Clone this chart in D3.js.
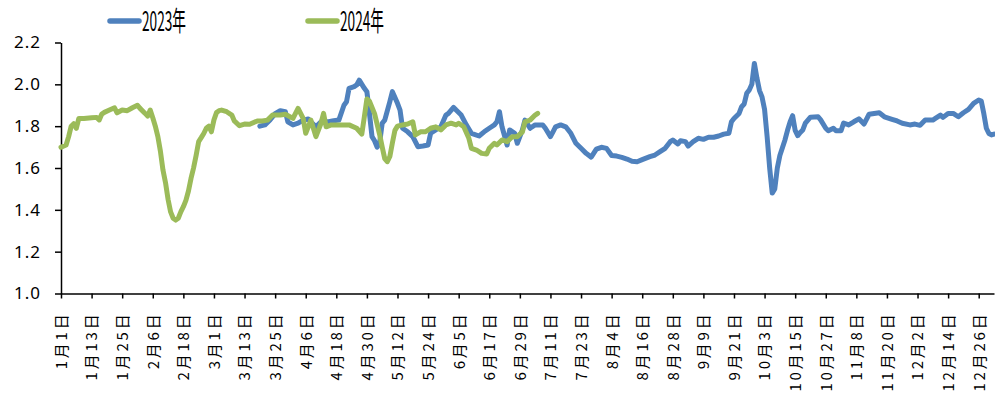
<!DOCTYPE html>
<html>
<head>
<meta charset="utf-8">
<script src="https://cdn.jsdelivr.net/npm/d3@7"></script>
<style>
  html, body { margin: 0; padding: 0; background: #fff; }
  svg { display: block; }
</style>
</head>
<body>
<svg id="chart" width="995" height="403"></svg>
<script>
// ---- data (x = day of year, 0 = 1月1日) ----
const seriesNames = ["2023年", "2024年"];

const days2023 = [78,80,82,84,86,88,89,91,93,95,97,98,100,102,105,107,109,111,112,113,115,116,117,119,120,121,122,123,124,125,126,127,129,130,132,133,134,136,138,140,142,144,145,147,149,151,152,154,155,157,159,161,164,166,168,170,171,172,173,175,176,178,179,181,182,184,186,189,190,192,193,194,196,198,200,202,204,206,208,210,212,214,216,218,220,222,224,226,228,231,233,235,237,239,240,242,243,245,246,248,250,252,254,256,258,260,262,263,264,266,267,268,269,270,271,272,273,274,275,276,277,278,279,280,281,282,284,285,286,287,288,289,290,291,292,294,297,298,300,301,303,304,306,307,309,311,313,315,317,319,321,323,326,328,330,333,335,337,339,342,343,345,346,348,350,352,354,356,358,360,361,362,363,364,365,366];
const values2023 = [1.80,1.806,1.83,1.86,1.874,1.869,1.821,1.806,1.814,1.829,1.834,1.821,1.797,1.821,1.821,1.826,1.829,1.90,1.917,1.981,1.989,1.997,2.02,1.981,1.965,1.861,1.75,1.73,1.70,1.72,1.814,1.829,1.917,1.965,1.909,1.877,1.79,1.773,1.75,1.702,1.705,1.71,1.766,1.782,1.797,1.853,1.861,1.89,1.877,1.853,1.806,1.766,1.753,1.773,1.79,1.806,1.821,1.869,1.797,1.71,1.782,1.766,1.718,1.782,1.829,1.79,1.806,1.806,1.79,1.75,1.773,1.797,1.806,1.797,1.766,1.718,1.694,1.67,1.652,1.69,1.699,1.694,1.66,1.657,1.651,1.643,1.632,1.63,1.64,1.654,1.662,1.678,1.694,1.726,1.734,1.715,1.73,1.726,1.705,1.726,1.742,1.737,1.747,1.747,1.753,1.762,1.766,1.821,1.837,1.861,1.893,1.906,1.957,1.973,2.0,2.10,2.03,1.97,1.94,1.88,1.75,1.60,1.48,1.50,1.60,1.66,1.734,1.78,1.82,1.85,1.78,1.755,1.77,1.782,1.815,1.843,1.845,1.83,1.79,1.778,1.79,1.778,1.778,1.815,1.806,1.821,1.835,1.81,1.857,1.861,1.864,1.845,1.833,1.825,1.814,1.806,1.81,1.804,1.829,1.829,1.837,1.853,1.842,1.861,1.861,1.845,1.864,1.88,1.909,1.925,1.92,1.86,1.79,1.765,1.758,1.762];

const days2024 = [0,2,3,4,5,6,7,9,12,14,15,16,17,19,21,22,24,26,28,30,31,33,34,35,36,37,38,39,40,41,42,43,44,45,46,47,48,49,50,51,52,53,54,55,56,57,58,59,60,61,62,63,65,67,68,70,72,74,77,79,81,83,86,88,91,93,95,96,98,100,102,103,104,106,109,113,116,118,119,120,121,122,123,124,125,126,127,128,129,130,131,132,134,136,138,139,141,143,145,147,149,151,153,155,156,158,160,161,163,165,167,168,170,171,173,175,177,179,181,182,184,186,187];
const values2024 = [1.699,1.71,1.75,1.80,1.812,1.79,1.837,1.837,1.84,1.842,1.83,1.858,1.866,1.877,1.888,1.864,1.877,1.874,1.888,1.90,1.885,1.861,1.848,1.877,1.84,1.80,1.75,1.68,1.59,1.53,1.45,1.39,1.36,1.351,1.36,1.39,1.415,1.445,1.49,1.55,1.60,1.66,1.726,1.745,1.765,1.79,1.80,1.773,1.83,1.865,1.874,1.877,1.869,1.853,1.825,1.802,1.81,1.809,1.825,1.825,1.829,1.853,1.853,1.857,1.837,1.885,1.837,1.766,1.829,1.75,1.814,1.861,1.797,1.806,1.806,1.806,1.79,1.762,1.845,1.93,1.92,1.89,1.86,1.81,1.76,1.70,1.645,1.63,1.655,1.72,1.78,1.80,1.806,1.81,1.821,1.758,1.773,1.773,1.79,1.797,1.782,1.806,1.814,1.806,1.814,1.797,1.742,1.694,1.686,1.67,1.667,1.694,1.718,1.71,1.734,1.726,1.75,1.75,1.773,1.821,1.829,1.853,1.861];

const tickDays = [0,12,24,36,48,60,72,84,96,108,120,132,144,156,168,180,192,204,216,228,240,252,264,276,288,300,312,324,336,348,360];
const tickLabels = ["1月1日","1月13日","1月25日","2月6日","2月18日","3月1日","3月13日","3月25日","4月6日","4月18日","4月30日","5月12日","5月24日","6月5日","6月17日","6月29日","7月11日","7月23日","8月4日","8月16日","8月28日","9月9日","9月21日","10月3日","10月15日","10月27日","11月8日","11月20日","12月2日","12月14日","12月26日"];
const yTicks = [1.0,1.2,1.4,1.6,1.8,2.0,2.2];

const colors = ["#4F81BD", "#9BBB59"];

// ---- drawing ----
const svg = d3.select("#chart");
const x = d3.scaleLinear().domain([0, 366]).range([61, 994]);
const y = d3.scaleLinear().domain([1.0, 2.2]).range([293.5, 42.5]);

const font = "'Noto Sans CJK SC', 'Noto Sans', sans-serif";

// y axis
const yAxis = svg.append("g")
  .attr("transform", "translate(61,0)")
  .call(d3.axisLeft(y).tickValues(yTicks).tickFormat(d3.format(".1f")).tickSize(6).tickSizeOuter(0).tickPadding(14));
yAxis.selectAll("text").attr("font-size", 17).attr("font-family", "'Noto Sans', sans-serif").attr("fill", "#000").attr("letter-spacing", "1px");
yAxis.selectAll("line, path").attr("stroke", "#000").attr("stroke-width", 1.5);

// x axis
const xAxis = svg.append("g")
  .attr("transform", "translate(0,293.5)")
  .call(d3.axisBottom(x).tickValues(tickDays).tickFormat((d, i) => tickLabels[i]).tickSize(5).tickSizeOuter(0));
xAxis.selectAll("line, path").attr("stroke", "#000").attr("stroke-width", 1.5);
xAxis.selectAll("text")
  .attr("transform", "rotate(-90)")
  .attr("text-anchor", "end")
  .attr("x", -18)
  .attr("y", 0)
  .attr("dy", "0.36em")
  .attr("font-size", 15)
  .attr("letter-spacing", "2.8px")
  .attr("font-family", font)
  .attr("fill", "#000");

// lines
const line = d3.line().x(d => x(d[0])).y(d => y(d[1]));
const data2023 = days2023.map((d, i) => [d, values2023[i]]);
const data2024 = days2024.map((d, i) => [d, values2024[i]]);

[data2023, data2024].forEach((data, i) => {
  svg.append("path")
    .datum(data)
    .attr("d", line)
    .attr("fill", "none")
    .attr("stroke", colors[i])
    .attr("stroke-width", 5)
    .attr("stroke-linejoin", "round")
    .attr("stroke-linecap", "round");
});

// legend
const legendX = [110, 308];
seriesNames.forEach((name, i) => {
  const g = svg.append("g");
  g.append("line")
    .attr("x1", legendX[i]).attr("x2", legendX[i] + 29)
    .attr("y1", 21).attr("y2", 21)
    .attr("stroke", colors[i]).attr("stroke-width", 5.5)
    .attr("stroke-linecap", "round");
  g.append("text")
    .attr("x", legendX[i] + 32)
    .attr("y", 31)
    .attr("font-size", 27)
    .attr("font-family", font)
    .attr("textLength", 44)
    .attr("lengthAdjust", "spacingAndGlyphs")
    .attr("fill", "#000")
    .text(name);
});
</script>
</body>
</html>
